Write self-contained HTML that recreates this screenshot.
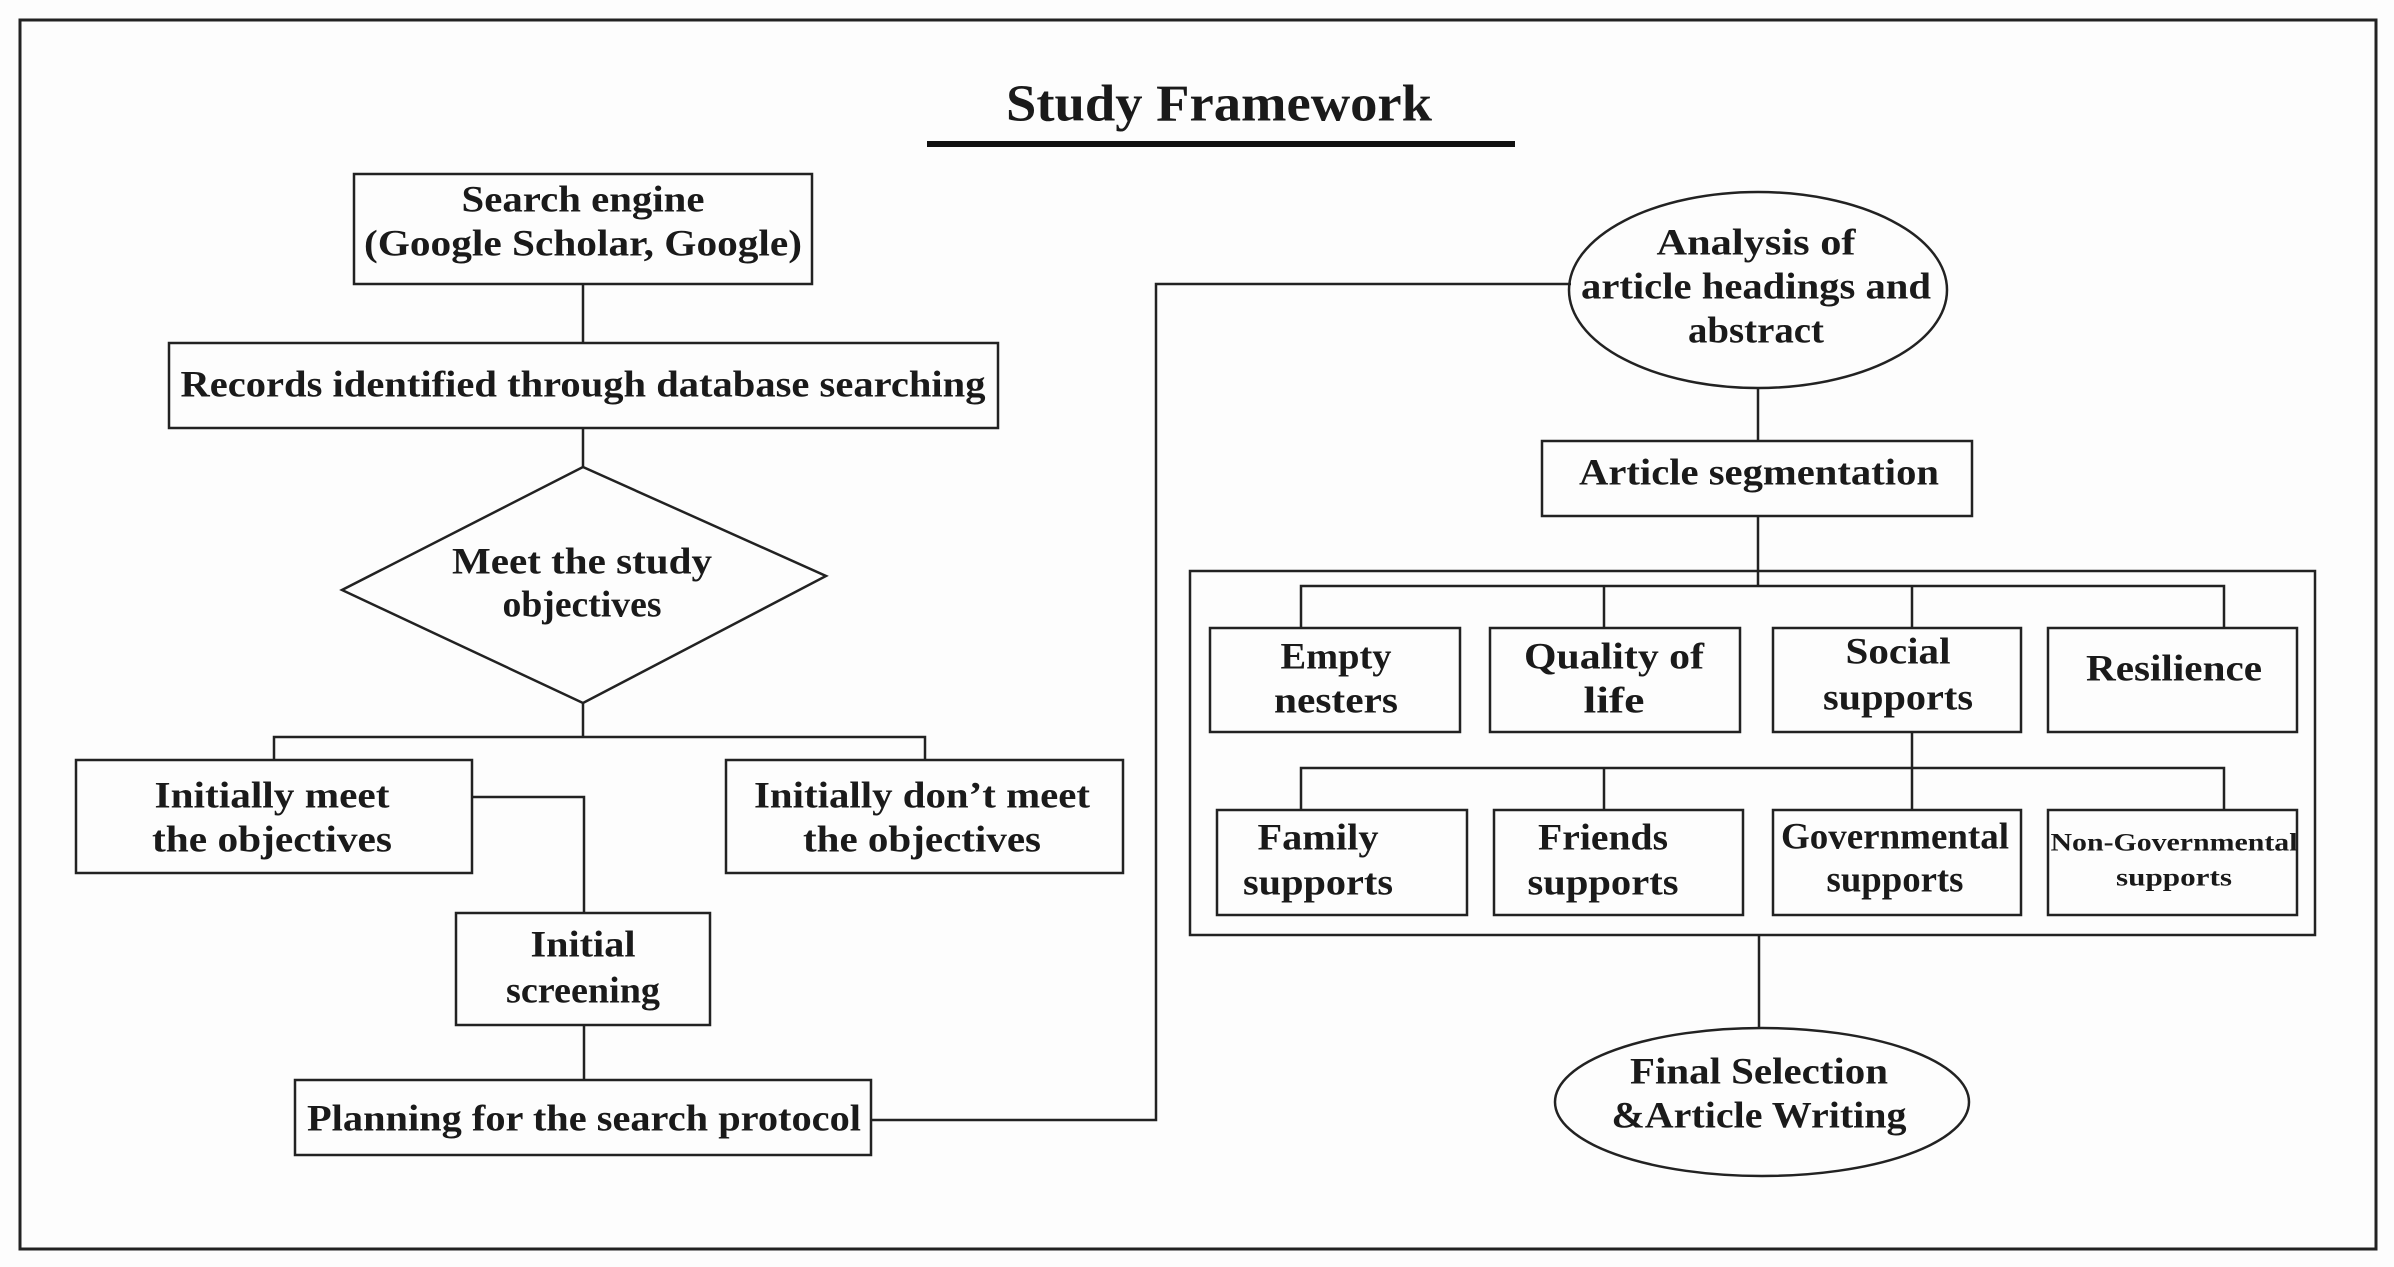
<!DOCTYPE html>
<html><head><meta charset="utf-8"><style>
html,body{margin:0;padding:0;background:#fff}
svg{display:block}
text{font-family:"Liberation Serif",serif;font-weight:bold;fill:#1a1a1a;text-anchor:middle;dominant-baseline:central}
</style></head><body>
<svg width="2394" height="1267" viewBox="0 0 2394 1267" xmlns="http://www.w3.org/2000/svg">
<rect x="0" y="0" width="2394" height="1267" fill="#fdfdfd"/>
<g fill="none" stroke="#222" stroke-width="2.5">
<rect x="20" y="20" width="2356" height="1229" stroke-width="3"/>
<rect x="354" y="174" width="458" height="110"/>
<line x1="583" y1="284" x2="583" y2="343"/>
<rect x="169" y="343" width="829" height="85"/>
<line x1="583" y1="428" x2="583" y2="467"/>
<polygon points="583,467 826,576 583,703 342,590"/>
<polyline points="583,703 583,737"/>
<polyline points="274,760 274,737 925,737 925,760"/>
<rect x="76" y="760" width="396" height="113"/>
<rect x="726" y="760" width="397" height="113"/>
<polyline points="472,797 584,797 584,913"/>
<rect x="456" y="913" width="254" height="112"/>
<line x1="584" y1="1025" x2="584" y2="1080"/>
<rect x="295" y="1080" width="576" height="75"/>
<polyline points="871,1120 1156,1120 1156,284 1571,284"/>
<ellipse cx="1758" cy="290" rx="189" ry="98"/>
<line x1="1758" y1="388" x2="1758" y2="441"/>
<rect x="1542" y="441" width="430" height="75"/>
<line x1="1758" y1="516" x2="1758" y2="586"/>
<rect x="1190" y="571" width="1125" height="364"/>
<polyline points="1301,628 1301,586 2224,586 2224,628"/>
<line x1="1604" y1="586" x2="1604" y2="628"/>
<line x1="1912" y1="586" x2="1912" y2="628"/>
<rect x="1210" y="628" width="250" height="104"/>
<rect x="1490" y="628" width="250" height="104"/>
<rect x="1773" y="628" width="248" height="104"/>
<rect x="2048" y="628" width="249" height="104"/>
<line x1="1912" y1="732" x2="1912" y2="810"/>
<polyline points="1301,810 1301,768 2224,768 2224,810"/>
<line x1="1604" y1="768" x2="1604" y2="810"/>
<rect x="1217" y="810" width="250" height="105"/>
<rect x="1494" y="810" width="249" height="105"/>
<rect x="1773" y="810" width="248" height="105"/>
<rect x="2048" y="810" width="249" height="105"/>
<line x1="1759" y1="935" x2="1759" y2="1028"/>
<ellipse cx="1762" cy="1102" rx="207" ry="74"/>
</g>
<line x1="927" y1="144" x2="1515" y2="144" stroke="#111" stroke-width="6"/>
<text x="1219" y="104" font-size="52" textLength="426" lengthAdjust="spacingAndGlyphs">Study Framework</text>
<g font-size="37">
<text x="583" y="200" textLength="243" lengthAdjust="spacingAndGlyphs">Search engine</text>
<text x="583" y="244" textLength="438" lengthAdjust="spacingAndGlyphs">(Google Scholar, Google)</text>
<text x="583" y="385" textLength="805" lengthAdjust="spacingAndGlyphs">Records identified through database searching</text>
<text x="582" y="562" textLength="260" lengthAdjust="spacingAndGlyphs">Meet the study</text>
<text x="582" y="605" textLength="159" lengthAdjust="spacingAndGlyphs">objectives</text>
<text x="272" y="796" textLength="235" lengthAdjust="spacingAndGlyphs">Initially meet</text>
<text x="272" y="840" textLength="240" lengthAdjust="spacingAndGlyphs">the objectives</text>
<text x="922" y="796" textLength="336" lengthAdjust="spacingAndGlyphs">Initially don’t meet</text>
<text x="922" y="840" textLength="238" lengthAdjust="spacingAndGlyphs">the objectives</text>
<text x="583" y="945" textLength="105" lengthAdjust="spacingAndGlyphs">Initial</text>
<text x="583" y="991" textLength="154" lengthAdjust="spacingAndGlyphs">screening</text>
<text x="584" y="1119" textLength="554" lengthAdjust="spacingAndGlyphs">Planning for the search protocol</text>
<text x="1756" y="243" textLength="199" lengthAdjust="spacingAndGlyphs">Analysis of</text>
<text x="1756" y="287" textLength="350" lengthAdjust="spacingAndGlyphs">article headings and</text>
<text x="1756" y="331" textLength="136" lengthAdjust="spacingAndGlyphs">abstract</text>
<text x="1759" y="473" textLength="360" lengthAdjust="spacingAndGlyphs">Article segmentation</text>
<text x="1336" y="657" textLength="111" lengthAdjust="spacingAndGlyphs">Empty</text>
<text x="1336" y="701" textLength="124" lengthAdjust="spacingAndGlyphs">nesters</text>
<text x="1614" y="657" textLength="180" lengthAdjust="spacingAndGlyphs">Quality of</text>
<text x="1614" y="701" textLength="61" lengthAdjust="spacingAndGlyphs">life</text>
<text x="1898" y="652" textLength="105" lengthAdjust="spacingAndGlyphs">Social</text>
<text x="1898" y="698" textLength="150" lengthAdjust="spacingAndGlyphs">supports</text>
<text x="2174" y="669" textLength="176" lengthAdjust="spacingAndGlyphs">Resilience</text>
<text x="1318" y="838" textLength="121" lengthAdjust="spacingAndGlyphs">Family</text>
<text x="1318" y="883" textLength="150" lengthAdjust="spacingAndGlyphs">supports</text>
<text x="1603" y="838" textLength="130" lengthAdjust="spacingAndGlyphs">Friends</text>
<text x="1603" y="883" textLength="151" lengthAdjust="spacingAndGlyphs">supports</text>
<text x="1895" y="837" textLength="228" lengthAdjust="spacingAndGlyphs">Governmental</text>
<text x="1895" y="880" textLength="137" lengthAdjust="spacingAndGlyphs">supports</text>
<text x="1759" y="1072" textLength="258" lengthAdjust="spacingAndGlyphs">Final Selection</text>
<text x="1759" y="1116" textLength="295" lengthAdjust="spacingAndGlyphs">&amp;Article Writing</text>
</g>
<g font-size="25">
<text x="2174" y="843" textLength="247" lengthAdjust="spacingAndGlyphs">Non-Governmental</text>
<text x="2174" y="878" textLength="116" lengthAdjust="spacingAndGlyphs">supports</text>
</g>
</svg>
</body></html>
